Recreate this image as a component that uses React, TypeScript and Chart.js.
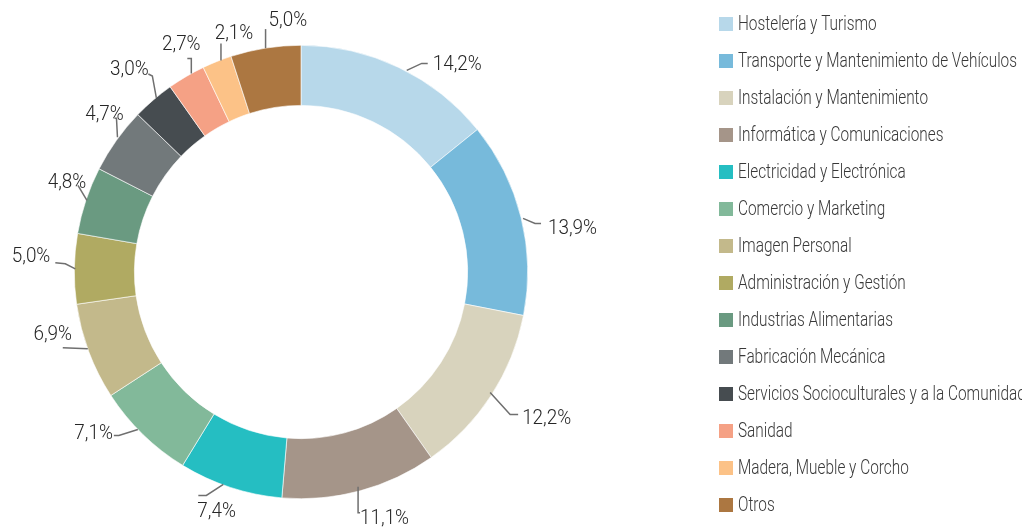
import React, { useEffect, useRef } from "react";
import { Chart, registerables } from "chart.js";

Chart.register(...registerables);

const categories: string[] = [
  "Hostelería y Turismo",
  "Transporte y Mantenimiento de Vehículos",
  "Instalación y Mantenimiento",
  "Informática y Comunicaciones",
  "Electricidad y Electrónica",
  "Comercio y Marketing",
  "Imagen Personal",
  "Administración y Gestión",
  "Industrias Alimentarias",
  "Fabricación Mecánica",
  "Servicios Socioculturales y a la Comunidad",
  "Sanidad",
  "Madera, Mueble y Corcho",
  "Otros",
];

const shares: number[] = [14.2, 13.9, 12.2, 11.1, 7.4, 7.1, 6.9, 5.0, 4.8, 4.7, 3.0, 2.7, 2.1, 5.0];

const colors: string[] = [
  "#b7d8ea",
  "#77badb",
  "#d8d3bd",
  "#a59589",
  "#25bec2",
  "#82b99a",
  "#c3b98b",
  "#b0aa62",
  "#6a9a81",
  "#72797b",
  "#464c50",
  "#f5a185",
  "#fcc287",
  "#ac7741",
];

// leader-line geometry relative to the outer-edge midpoint of each arc (style only)
type Guide = { pts: number[][]; tx: number; ty: number; align: CanvasTextAlign };
const guides: Guide[] = [
  { pts: [[8, 3], [23, -4], [29, -4]], tx: 34, ty: -4, align: "left" },
  { pts: [[2, 1], [14, 6], [20, 6]], tx: 27, ty: 10, align: "left" },
  { pts: [[-1, -3], [19, 19], [27, 19]], tx: 31, ty: 22, align: "left" },
  { pts: [[-2, -4], [-2, 22], [0, 22]], tx: 0, ty: 27, align: "left" },
  { pts: [[-7, -3], [-24, 8], [-32, 8]], tx: -33, ty: 23, align: "left" },
  { pts: [[-5, -5], [-24, 1], [-29, 1]], tx: -30, ty: -2, align: "right" },
  { pts: [[-1, -3], [-26, -4]], tx: -36, ty: -18, align: "center" },
  { pts: [[1, 0], [-9, -5], [-19, -6]], tx: -24, ty: -13, align: "right" },
  { pts: [[1, 0], [-8, -15]], tx: -19, ty: -19, align: "center" },
  { pts: [[1, -3], [0, -22], [-2, -22]], tx: -12, ty: -27, align: "center" },
  { pts: [[3, -2], [-1, -24], [-5, -26]], tx: -24, ty: -31, align: "center" },
  { pts: [[5, -3], [5, -18], [1, -18]], tx: -5, ty: -33, align: "center" },
  { pts: [[4, -1], [4, -18]], tx: 17, ty: -29, align: "center" },
  { pts: [[0, 0], [0, -19]], tx: 3, ty: -28, align: "left" },
];

const FONT = "300 21px Roboto, 'Liberation Sans', sans-serif";

function drawCondensed(
  ctx: CanvasRenderingContext2D,
  text: string,
  x: number,
  y: number,
  align: CanvasTextAlign,
  sx: number
) {
  ctx.save();
  ctx.translate(x, y + 1);
  ctx.scale(sx, 1);
  ctx.textAlign = align;
  ctx.textBaseline = "middle";
  ctx.fillText(text, 0, 0);
  ctx.restore();
}

const annotatePlugin = {
  id: "annotate",
  afterDatasetsDraw(chart: any) {
    const ctx: CanvasRenderingContext2D = chart.ctx;
    const meta = chart.getDatasetMeta(0);
    ctx.save();
    ctx.font = FONT;
    const labelScale = 49 / ctx.measureText("14,2%").width;
    const legendScale = 279 / ctx.measureText("Transporte y Mantenimiento de Vehículos").width;

    meta.data.forEach((arc: any, i: number) => {
      const p = arc.getProps(["x", "y", "startAngle", "endAngle", "outerRadius"], true);
      const mid = (p.startAngle + p.endAngle) / 2;
      const ax = p.x + Math.cos(mid) * p.outerRadius;
      const ay = p.y + Math.sin(mid) * p.outerRadius;
      const g = guides[i];
      ctx.beginPath();
      g.pts.forEach((pt, k) => {
        if (k === 0) ctx.moveTo(ax + pt[0], ay + pt[1]);
        else ctx.lineTo(ax + pt[0], ay + pt[1]);
      });
      ctx.strokeStyle = "#6f6f6f";
      ctx.lineWidth = 1.5;
      ctx.stroke();
      ctx.fillStyle = "#262626";
      const txt = shares[i].toFixed(1).replace(".", ",") + "%";
      drawCondensed(ctx, txt, ax + g.tx, ay + g.ty, g.align, labelScale);
    });

    // legend (clipped at the right like the original container)
    ctx.save();
    ctx.beginPath();
    ctx.rect(700, 0, 322, 530);
    ctx.clip();
    const lx = 719;
    const ly0 = 24;
    const step = 37;
    categories.forEach((name, i) => {
      const cy = ly0 + step * i;
      ctx.fillStyle = colors[i];
      ctx.fillRect(lx, cy - 7, 14, 14);
      ctx.fillStyle = "#383838";
      drawCondensed(ctx, name, lx + 19, cy, "left", legendScale);
    });
    ctx.restore();
    ctx.restore();
  },
};

export default function App() {
  const ref = useRef<HTMLCanvasElement | null>(null);
  useEffect(() => {
    if (!ref.current) return;
    const chart = new Chart(ref.current, {
      type: "doughnut",
      data: {
        labels: categories,
        datasets: [
          {
            data: shares,
            backgroundColor: colors,
            borderColor: "#ffffff",
            borderWidth: 0.6,
          },
        ],
      },
      options: {
        responsive: false,
        animation: false,
        devicePixelRatio: 1,
        events: [],
        cutout: "73.5%",
        layout: { padding: { left: 74, top: 45, right: 504, bottom: 31 } },
        plugins: {
          legend: { display: false },
          tooltip: { enabled: false },
          title: { display: false },
        },
      },
      plugins: [annotatePlugin],
    });
    return () => chart.destroy();
  }, []);
  return (
    <div style={{ position: "fixed", left: 0, top: 0, width: 1032, height: 530, background: "#fff" }}>
      <canvas ref={ref} width={1032} height={530} style={{ display: "block" }} />
    </div>
  );
}
